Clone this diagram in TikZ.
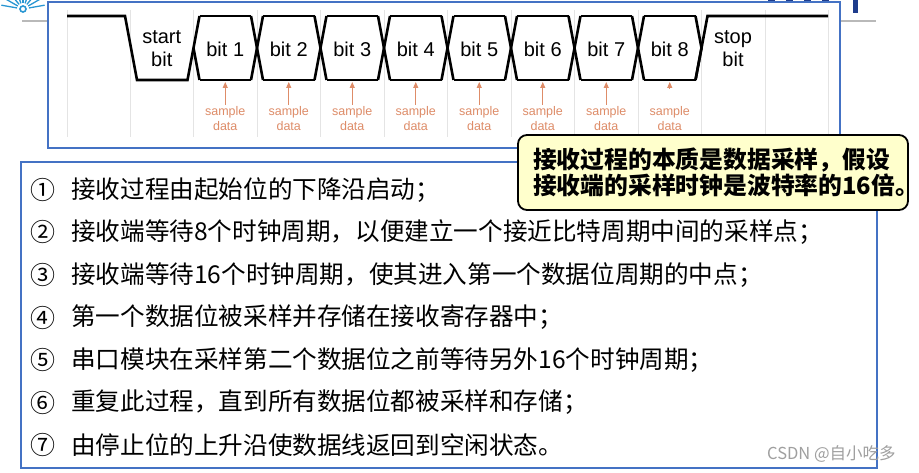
\documentclass[tikz,border=0pt]{standalone}
\usepackage{fontspec}
\setmainfont{Liberation Sans}
\newfontfamily\cjk{Noto Sans CJK SC}
\usetikzlibrary{arrows.meta, positioning, calc}
\definecolor{boxblue} {RGB}{ 68,114,196}
\definecolor{smpclr}  {RGB}{222,140,104}
\definecolor{gridclr} {RGB}{228,228,228}
\definecolor{notebg}  {RGB}{255,255,204}
\definecolor{logoclr} {RGB}{ 40,150,210}
\definecolor{navyclr} {RGB}{ 30, 60,140}
\tikzset{
  wave/.style={line width=2.6pt, line join=miter, color=black},
  gridln/.style={line width=0.8pt, color=gridclr},
  bitlbl/.style={font=\fontsize{20}{23}\selectfont, align=center, inner sep=0pt},
  smplbl/.style={font=\fontsize{12.5}{15.5}\selectfont, text=smpclr, align=center, inner sep=1pt},
  smparr/.style={-{Triangle[length=6pt,width=5pt]}, line width=1pt, color=smpclr},
  numlbl/.style={font=\cjk\fontsize{25}{28}\selectfont, inner sep=0pt},
  steplbl/.style={font=\cjk\fontsize{24.6}{30}\selectfont, anchor=west, inner sep=0pt},
  notebox/.style={rectangle, rounded corners=9pt, draw=black, line width=1.8pt, fill=notebg,
    font=\cjk\bfseries\fontsize{23.8}{26}\selectfont, text width=360pt, align=left,
    minimum width=390pt, minimum height=75pt, inner sep=0pt},
  frame/.style={draw=boxblue, line width=2.4pt},
  deco/.style={line width=1.5pt, color=gray!55},
}
\begin{document}
\begin{tikzpicture}[x=1pt, y=-1pt]
\useasboundingbox[fill=white] (0,0) rectangle (919,473);
% slide leftovers
\coordinate (logo) at (23,9);
\foreach \a in {10,30,...,170} \draw[logoclr, line width=1.3pt] ($(logo)+({6*cos(\a)},{-6*sin(\a)})$) -- ($(logo)+({22*cos(\a)},{-22*sin(\a)})$);
\fill[white] (logo) circle (4.5);
\draw[logoclr, line width=1.6pt] (logo) circle (3);
\draw[deco] (22,21) -- (48,21);
\draw[deco] (840,21) -- (876,21);
\foreach \x in {768,786,804,822} \fill[navyclr] (\x,0) rectangle ++(7,5);
\fill[navyclr] (853,0) rectangle (858,13);
% waveform
\fill[white] (48,2) rectangle (840,148);
\draw[gridln] (67,10) -- (67,137);
\foreach \k in {0,...,11} \draw[gridln] ({130+63.5*\k},10) -- ({130+63.5*\k},137);
\draw[wave] (67,16) -- (125,16) -- (137,80) -- (187.5,80) -- (199.5,16);
\draw[wave] (193.5,48) -- (199.5,80);
\foreach \k in {2,...,8} {
  \draw[wave] ({130+63.5*\k-6},16) -- ({130+63.5*\k+6},80);
  \draw[wave] ({130+63.5*\k-6},80) -- ({130+63.5*\k+6},16);
}
\foreach \i in {1,...,8} {
  \draw[wave] ({130+63.5*\i+6},16) -- ({130+63.5*(\i+1)-6},16);
  \draw[wave] ({130+63.5*\i+6},80) -- ({130+63.5*(\i+1)-6},80);
  \node[bitlbl] (bit\i) at ({161.75+63.5*\i},49) {bit \i};
}
\draw[wave] (695.5,16) -- (701.5,48) -- (695.5,80);
\draw[wave] (695.5,80) -- (707.5,16) -- (828,16);
\node[bitlbl] (start) at (161.75,49) {start\\bit};
\node[bitlbl] (stop) at (733,49) {stop\\bit};
% sample points
\foreach \i in {1,...,8} {
  \coordinate (tip\i) at ({161.75+63.5*\i},82);
  \node[smplbl] (smp\i) at ({161.75+63.5*\i},118.5) {sample\\data};
}
\foreach \i in {1,...,7} \draw[smparr] (smp\i.north) -- (tip\i);
\coordinate (tail8) at (669.75,89);
\draw[smparr] (tail8) -- (tip8);
\draw[frame, line width=2pt] (48,2) rectangle (840,148);
% steps
\draw[frame] (21,162) rectangle (877,468);
\foreach \num/\txt [count=\i from 0] in {
  ①/接收过程由起始位的下降沿启动；,
  ②/接收端等待8个时钟周期，以便建立一个接近比特周期中间的采样点；,
  ③/接收端等待16个时钟周期，使其进入第一个数据位周期的中点；,
  ④/第一个数据位被采样并存储在接收寄存器中；,
  ⑤/串口模块在采样第二个数据位之前等待另外16个时钟周期；,
  ⑥/重复此过程，直到所有数据位都被采样和存储；,
  ⑦/由停止位的上升沿使数据线返回到空闲状态。} {
  \node[numlbl] (num\i) at (43,{190+42.5*\i}) {\num};
  \node[steplbl] (step\i) at (71,{190+42.5*\i}) {\txt};
}
\node[notebox] (note) at (713,172.5) {接收过程的本质是数据采样，假设\\接收端的采样时钟是波特率的16倍。};
\node[font=\cjk\fontsize{16.5}{18}\selectfont, text=gray!75, anchor=west, inner sep=0pt] (mark) at (767,454) {CSDN @自小吃多};
\end{tikzpicture}
\end{document}
